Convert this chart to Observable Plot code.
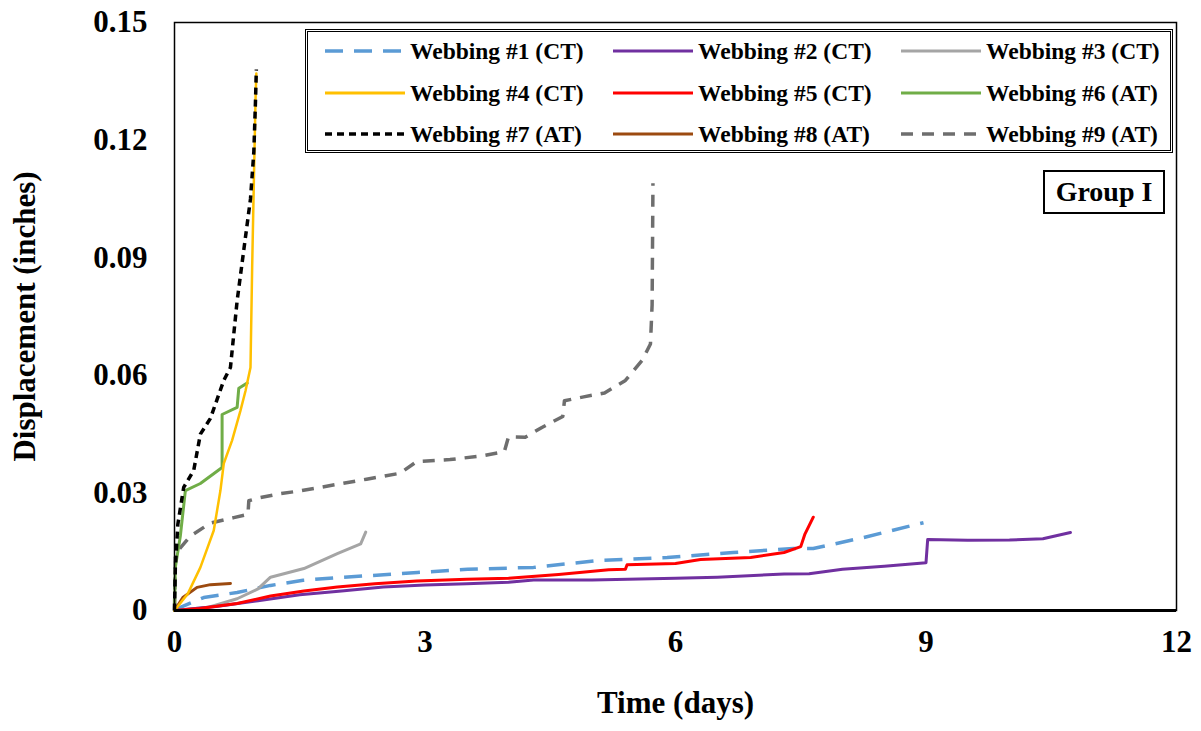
<!DOCTYPE html>
<html>
<head>
<meta charset="utf-8">
<script src="https://cdn.jsdelivr.net/npm/d3@7"></script>
<script src="https://cdn.jsdelivr.net/npm/@observablehq/plot@0.6"></script>
<style>
  html, body { margin: 0; padding: 0; background: #fff; }
  #wrap { position: relative; width: 1201px; height: 731px; font-family: "Liberation Serif", "Times New Roman", serif; font-weight: bold; }
  #legend { position: absolute; left: 305px; top: 29px; width: 862px; height: 118px; border: 3px double #000; background: #fff; box-sizing: content-box; }
  .item { position: absolute; display: flex; align-items: center; height: 28px; font-size: 23.5px; white-space: nowrap; }
  .item svg { margin-right: 5px; }
  #group { position: absolute; left: 1043px; top: 170px; width: 118px; height: 40px; border: 2px solid #000; background: #fff; font-size: 28px; display: flex; align-items: center; justify-content: center; }
</style>
</head>
<body>
<div id="wrap"></div>
<script>
// ---- data: [time (days), displacement (inches)] ----
const webbing1 = [[0,0],[0.07,0.0008],[0.35,0.0033],[0.75,0.0046],[1.15,0.0064],[1.54,0.0077],[1.95,0.0084],[2.35,0.0089],[2.91,0.0097],[3.51,0.0105],[4.3,0.011],[5.1,0.0128],[5.9,0.0135],[6.69,0.0148],[7.41,0.0158],[7.65,0.0158],[8.25,0.0186],[8.97,0.0224]];
const webbing2 = [[0,0],[0.5,0.001],[1,0.0025],[1.5,0.004],[2,0.005],[2.5,0.006],[3,0.0065],[3.5,0.0068],[4,0.0072],[4.3,0.0078],[5,0.0078],[6,0.0082],[6.5,0.0085],[7.3,0.0093],[7.6,0.0094],[8,0.0105],[8.5,0.0113],[9,0.0122],[9.02,0.0181],[9.5,0.0179],[10,0.018],[10.4,0.0183],[10.73,0.0199]];
const webbing3 = [[0,0],[0.4,0.0008],[0.75,0.003],[1.0,0.0055],[1.15,0.0085],[1.55,0.0107],[1.95,0.0145],[2.23,0.017],[2.29,0.0200]];
const webbing4 = [[0,0],[0.16,0.0043],[0.31,0.011],[0.47,0.0204],[0.55,0.0306],[0.59,0.0375],[0.69,0.0434],[0.79,0.051],[0.85,0.056],[0.91,0.062],[0.93,0.0875],[0.95,0.109],[0.97,0.130],[0.98,0.137]];
const webbing5 = [[0,0],[0.3,0.0005],[0.75,0.0018],[1.15,0.0037],[1.55,0.005],[1.95,0.006],[2.4,0.0068],[2.9,0.0075],[3.5,0.008],[4.0,0.0082],[4.6,0.0092],[5.2,0.0104],[5.4,0.0105],[5.42,0.0117],[6.0,0.012],[6.3,0.013],[6.9,0.0135],[7.3,0.0148],[7.5,0.0163],[7.55,0.0195],[7.65,0.0238]];
const webbing6 = [[0,0],[0.01,0.011],[0.07,0.019],[0.13,0.0306],[0.31,0.0324],[0.57,0.0365],[0.57,0.050],[0.75,0.0518],[0.77,0.0567],[0.87,0.058]];
const webbing7 = [[0,0],[0.01,0.011],[0.04,0.022],[0.11,0.0314],[0.23,0.0357],[0.31,0.045],[0.43,0.049],[0.59,0.0587],[0.67,0.062],[0.75,0.079],[0.83,0.092],[0.91,0.105],[0.95,0.117],[0.97,0.130],[0.98,0.138]];
const webbing8 = [[0,0],[0.1,0.0033],[0.27,0.0059],[0.43,0.0066],[0.67,0.0069]];
const webbing9 = [[0,0],[0.01,0.014],[0.07,0.016],[0.19,0.019],[0.43,0.0223],[0.71,0.0237],[0.88,0.0245],[0.89,0.028],[1.03,0.0288],[1.27,0.0298],[1.5,0.0305],[1.9,0.032],[2.3,0.0335],[2.7,0.035],[2.9,0.038],[3.3,0.0385],[3.7,0.0395],[3.95,0.0405],[4.0,0.0443],[4.2,0.0442],[4.4,0.0467],[4.65,0.0495],[4.67,0.0535],[4.9,0.0545],[5.15,0.0555],[5.4,0.0587],[5.6,0.0638],[5.7,0.068],[5.72,0.078],[5.73,0.109]];

const seriesNames = ["Webbing #1 (CT)","Webbing #2 (CT)","Webbing #3 (CT)","Webbing #4 (CT)","Webbing #5 (CT)","Webbing #6 (AT)","Webbing #7 (AT)","Webbing #8 (AT)","Webbing #9 (AT)"];
const seriesData = [webbing1, webbing2, webbing3, webbing4, webbing5, webbing6, webbing7, webbing8, webbing9];
const seriesColors = ["#5B9BD5","#7030A0","#A5A5A5","#FFC000","#FF0000","#70AD47","#000000","#9C4A10","#6E6E6E"];
const seriesDash = ["18,11", null, null, null, null, null, "7,5", null, "12,9"];
const seriesWidth = [3.5, 3, 3, 2.5, 3, 3, 3.5, 3, 3.5];
const xTicks = [0, 3, 6, 9, 12];
const yTicks = [0, 0.03, 0.06, 0.09, 0.12, 0.15];
const drawOrder = [8, 0, 2, 1, 4, 7, 5, 3, 6];

const font = "'Liberation Serif', 'Times New Roman', serif";
const marks = [];
for (const i of drawOrder) {
  marks.push(Plot.line(seriesData[i], {
    x: d => d[0], y: d => d[1],
    stroke: seriesColors[i], strokeWidth: seriesWidth[i],
    strokeDasharray: seriesDash[i] || undefined,
    strokeLinejoin: "round", strokeLinecap: seriesDash[i] ? "butt" : "round"
  }));
}
marks.push(Plot.frame({stroke: "#000", strokeWidth: 1.5}));
marks.push(Plot.ruleY([0], {stroke: "#000", strokeWidth: 3}));
marks.push(Plot.axisX({ticks: xTicks, tickSize: 0, tickPadding: 19, fontSize: 31, label: null}));
marks.push(Plot.axisY({ticks: yTicks, tickSize: 0, tickPadding: 27, fontSize: 31, label: null,
  tickFormat: d => d === 0 ? "0" : d.toFixed(2)}));
marks.push(Plot.text(["Displacement (inches)"], {frameAnchor: "left", dx: -149, rotate: -90, fontSize: 31, textAnchor: "middle"}));
marks.push(Plot.text(["Time (days)"], {frameAnchor: "bottom", dy: 102, fontSize: 31, textAnchor: "middle"}));

const chart = Plot.plot({
  width: 1201, height: 731,
  marginLeft: 174, marginRight: 25, marginTop: 22, marginBottom: 121,
  x: {domain: [0, 12]},
  y: {domain: [0, 0.15]},
  style: {fontFamily: font, fontWeight: "bold", color: "#000", background: "#fff", overflow: "visible"},
  marks
});
const wrap = document.getElementById("wrap");
wrap.appendChild(chart);

const legend = document.createElement("div");
legend.id = "legend";
wrap.appendChild(legend);
const colX = [17, 305, 593];
const rowY = [5, 47, 88];
seriesNames.forEach((name, i) => {
  const item = document.createElement("div");
  item.className = "item";
  item.style.left = colX[i % 3] + "px";
  item.style.top = rowY[Math.floor(i / 3)] + "px";
  const dash = seriesDash[i] ? `stroke-dasharray="${seriesDash[i]}"` : "";
  item.innerHTML = `<svg width="80" height="10"><line x1="0" y1="5" x2="80" y2="5" stroke="${seriesColors[i]}" stroke-width="${Math.max(3, seriesWidth[i])}" ${dash}/></svg><span>${name}</span>`;
  legend.appendChild(item);
});

const group = document.createElement("div");
group.id = "group";
group.textContent = "Group I";
wrap.appendChild(group);
</script>
</body>
</html>
